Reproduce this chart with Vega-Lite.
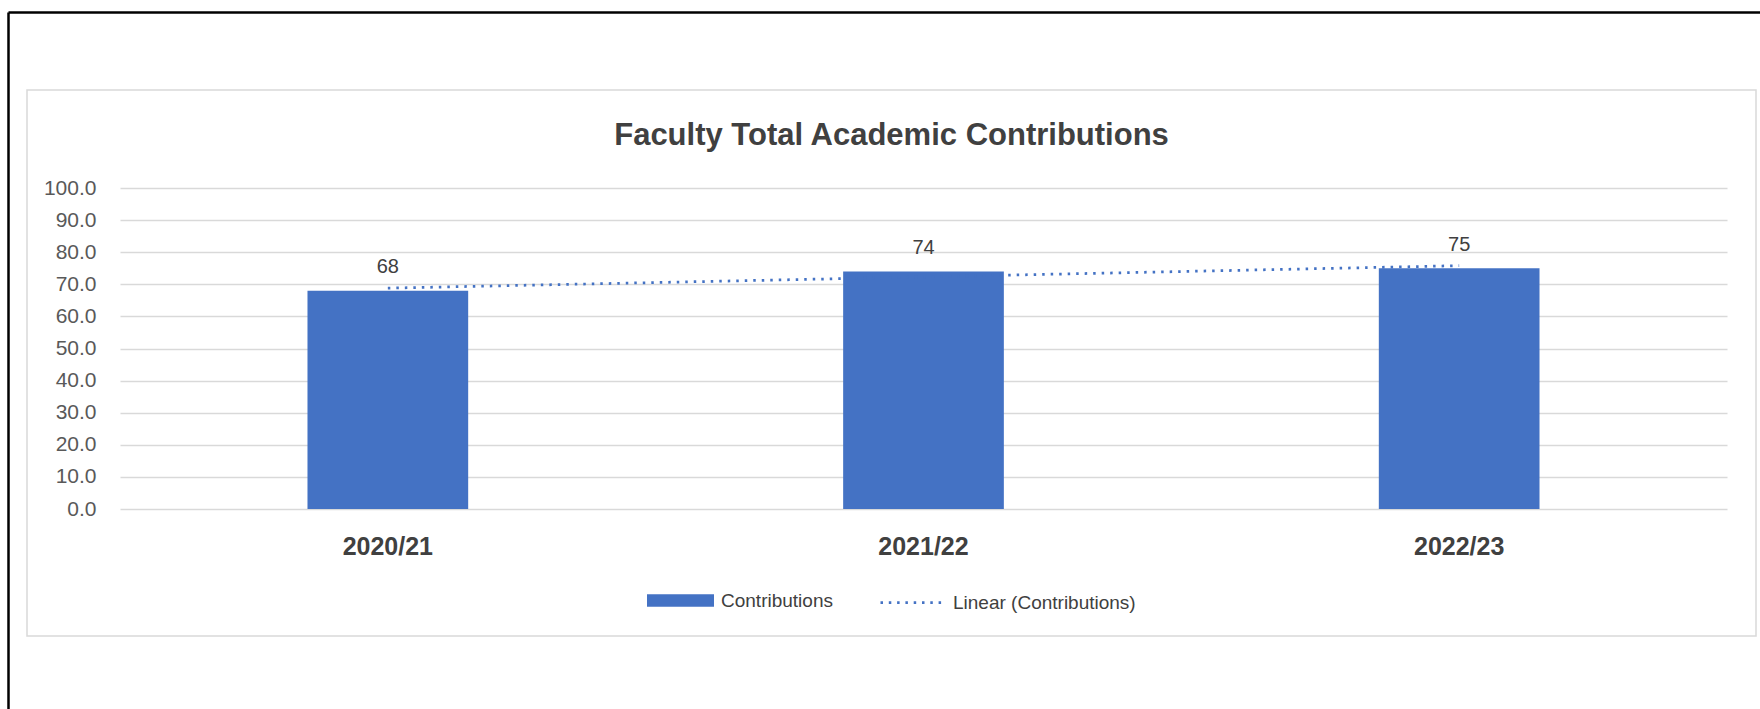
{
  "$schema": "https://vega.github.io/schema/vega-lite/v6.json",
  "autosize": "none",
  "padding": {"left": 27, "top": 90, "right": 4, "bottom": 73},
  "width": 1729,
  "height": 546,
  "background": "white",
  "config": {
    "view": {"stroke": "#d9d9d9", "strokeWidth": 1.5},
    "font": "Liberation Sans"
  },
  "title": {
    "text": "Faculty Total Academic Contributions",
    "anchor": "middle",
    "frame": "group",
    "offset": -164,
    "baseline": "alphabetic",
    "font": "Liberation Sans",
    "fontSize": 31,
    "fontWeight": "bold",
    "color": "#404040"
  },
  "data": {
    "values": [
      {"year": "2020/21", "value": 68, "trend": 68.8},
      {"year": "2021/22", "value": 74, "trend": 72.3},
      {"year": "2022/23", "value": 75, "trend": 75.8}
    ]
  },
  "layer": [
    {
      "encoding": {
        "x": {
          "field": "year",
          "type": "nominal",
          "sort": null,
          "title": null,
          "scale": {"range": [93, 1700], "paddingInner": 0.7, "paddingOuter": 0.35},
          "axis": {
            "orient": "bottom",
            "offset": -127,
            "domain": false,
            "ticks": false,
            "grid": false,
            "labelAngle": 0,
            "labelPadding": 25,
            "labelBaseline": "top",
            "labelFont": "Liberation Sans",
            "labelFontSize": 25,
            "labelFontWeight": "bold",
            "labelColor": "#404040"
          }
        },
        "y": {
          "field": "value",
          "type": "quantitative",
          "title": null,
          "scale": {"domain": [0, 100], "range": [419, 98], "nice": false, "zero": true},
          "axis": {
            "orient": "left",
            "offset": -93,
            "domain": false,
            "ticks": false,
            "values": [0, 10, 20, 30, 40, 50, 60, 70, 80, 90, 100],
            "format": ".1f",
            "labelPadding": 24,
            "labelFont": "Liberation Sans",
            "labelFontSize": 21,
            "labelColor": "#595959",
            "grid": true,
            "gridColor": "#d9d9d9",
            "gridWidth": 1.5
          }
        }
      },
      "layer": [
        {
          "mark": {"type": "bar"},
          "encoding": {
            "fill": {
              "datum": "Contributions",
              "scale": {"range": ["#4472C4"]},
              "legend": {
                "title": null,
                "orient": "none",
                "direction": "horizontal",
                "legendX": 620,
                "legendY": 477,
                "symbolType": "M-1,-0.185H1V0.185H-1Z",
                "symbolSize": 4489,
                "symbolStrokeWidth": 0,
                "labelOffset": 7,
                "labelLimit": 400,
                "labelFont": "Liberation Sans",
                "labelFontSize": 19,
                "labelColor": "#404040"
              }
            }
          }
        },
        {
          "mark": {"type": "text", "dy": -17.5, "baseline": "alphabetic", "font": "Liberation Sans", "fontSize": 20, "color": "#404040"},
          "encoding": {"text": {"field": "value", "type": "quantitative", "format": "d"}}
        },
        {
          "mark": {"type": "line", "strokeWidth": 2.75, "strokeDash": [2.5, 6]},
          "encoding": {
            "y": {"field": "trend", "type": "quantitative"},
            "stroke": {
              "datum": "Linear (Contributions)",
              "scale": {"range": ["#4472C4"]},
              "legend": {
                "title": null,
                "orient": "none",
                "direction": "horizontal",
                "legendX": 852,
                "legendY": 478,
                "symbolType": "M-1,0H1",
                "symbolSize": 4356,
                "symbolStrokeWidth": 2.75,
                "symbolDash": [2.5, 5.8],
                "labelOffset": 5,
                "labelLimit": 400,
                "labelFont": "Liberation Sans",
                "labelFontSize": 19,
                "labelColor": "#404040"
              }
            }
          }
        }
      ]
    },
    {
      "mark": {"type": "rule", "opacity": 0},
      "encoding": {
        "x": {
          "datum": 0,
          "type": "quantitative",
          "scale": {"domain": [0, 1], "range": [-19, 1735]},
          "axis": {"orient": "top", "offset": 78, "title": null, "labels": false, "ticks": false, "grid": false, "domain": true, "domainColor": "black", "domainWidth": 2.5}
        },
        "y": {
          "datum": 0,
          "type": "quantitative",
          "scale": {"domain": [0, 1], "range": [621, -78]},
          "axis": {"orient": "left", "offset": 19, "title": null, "labels": false, "ticks": false, "grid": false, "domain": true, "domainColor": "black", "domainWidth": 2.5}
        }
      }
    }
  ],
  "resolve": {"scale": {"x": "independent", "y": "independent"}}
}
